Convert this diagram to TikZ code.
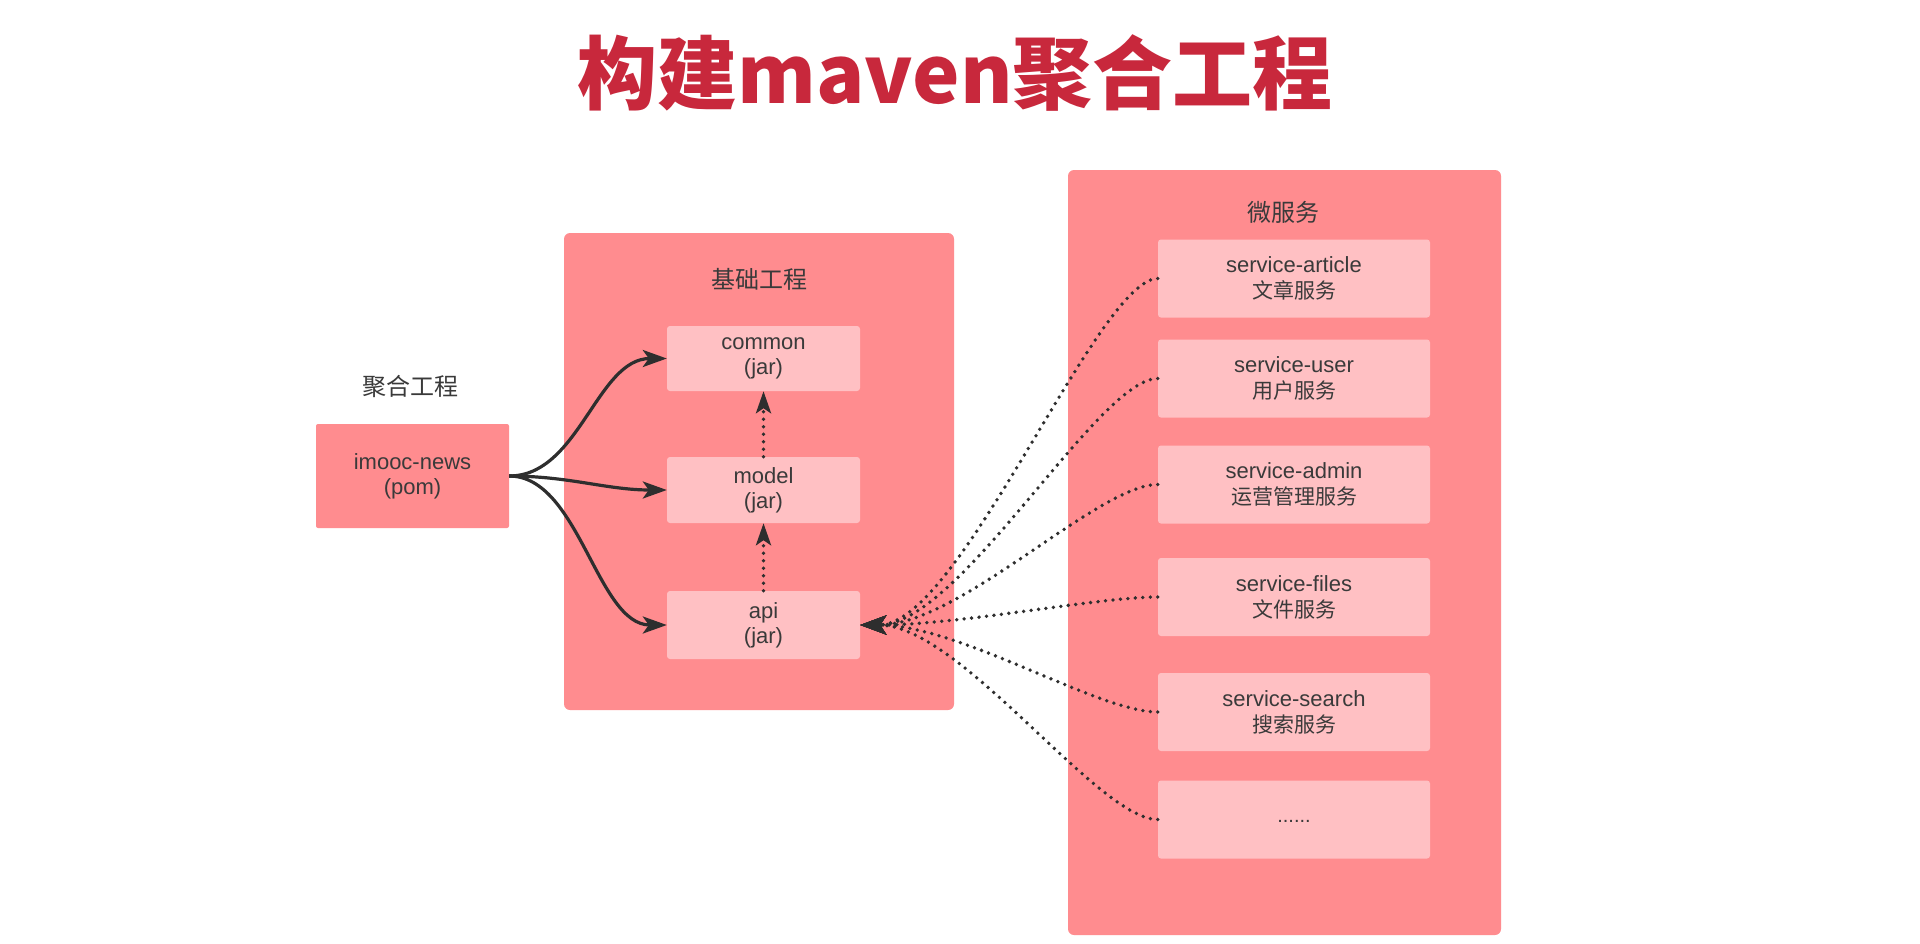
\documentclass[tikz,border=0pt]{standalone}
\usepackage{fontspec}
\setmainfont{Liberation Sans}
\newfontfamily\cjk{Noto Sans CJK SC}
\usetikzlibrary{arrows.meta}
\definecolor{outerpink}{HTML}{FF8C8F}
\definecolor{innerpink}{HTML}{FFC0C3}
\definecolor{txt}{HTML}{3A3A3A}
\definecolor{titlered}{HTML}{C8283C}
\definecolor{linec}{HTML}{2E2E2E}
\newcommand{\zh}[1]{{\cjk\fontsize{21}{26}\selectfont #1}}
\begin{document}
\begin{tikzpicture}[x=1pt,y=1pt,
  container/.style={fill=outerpink, draw=none, rounded corners=6pt, inner sep=0pt},
  inbox/.style={fill=innerpink, draw=none, rounded corners=3pt, minimum width=193pt, text=txt, align=center, font=\fontsize{22}{25}\selectfont, inner sep=0pt},
  svcbox/.style={fill=innerpink, draw=none, rounded corners=3pt, minimum width=272pt, minimum height=78pt, text=txt, align=center, font=\fontsize{22}{26}\selectfont, inner sep=0pt},
  grouplabel/.style={text=txt, font=\cjk\fontsize{24}{28}\selectfont, inner sep=0pt},
  solidarrow/.style={draw=linec, line width=3.2pt, -{Stealth[length=24pt,width=17pt,inset=6pt]}},
  vdots/.style={draw=linec, line width=3.8pt, line cap=round, dash pattern=on 0pt off 7.5pt, -{Stealth[length=22pt,width=15pt,inset=5pt]}},
  svcdots/.style={draw=linec, line width=3.8pt, line cap=round, dash pattern=on 0pt off 7.5pt, -{Stealth[length=26pt,width=19pt,inset=6pt]}},
]
\fill[white] (0,0) rectangle (1920,-943);
\useasboundingbox (0,0) rectangle (1920,-943);

% title
\node[text=titlered, font=\cjk\bfseries\fontsize{80}{90}\selectfont, inner sep=0pt] (title) at (955,-73) {构建maven聚合工程};

% aggregate project
\node[grouplabel] (aggLabel) at (410,-386) {聚合工程};
\node[fill=outerpink, rounded corners=2pt, minimum width=193pt, minimum height=104pt, inner sep=0pt, text=txt, align=center, font=\fontsize{22}{25}\selectfont] (imooc) at (412.5,-476) {imooc-news\\(pom)};

% base project container
\node[container, minimum width=390pt, minimum height=477pt] (base) at (759,-471.5) {};
\node[grouplabel] (baseLabel) at (759,-279) {基础工程};
\node[inbox, minimum height=65pt] (common) at (763.5,-358.5) {common\\(jar)};
\node[inbox, minimum height=66pt] (model) at (763.5,-490) {model\\(jar)};
\node[inbox, minimum height=68pt] (api) at (763.5,-625) {api\\(jar)};

% microservices container
\node[container, minimum width=433pt, minimum height=765pt] (micro) at (1284.5,-552.5) {};
\node[grouplabel] (microLabel) at (1283,-212) {微服务};
\node[svcbox] (article) at (1294,-278.5) {service-article\\\zh{文章服务}};
\node[svcbox] (user) at (1294,-378.5) {service-user\\\zh{用户服务}};
\node[svcbox] (admin) at (1294,-484.5) {service-admin\\\zh{运营管理服务}};
\node[svcbox] (files) at (1294,-597) {service-files\\\zh{文件服务}};
\node[svcbox] (search) at (1294,-712) {service-search\\\zh{搜索服务}};
\node[svcbox, font=\fontsize{20}{26}\selectfont] (more) at (1294,-819.5) {\raisebox{-6pt}{......}};

% aggregate arrows
\draw[solidarrow] (imooc.east) .. controls +(70,0) and +(-70,0) .. (common.west);
\draw[solidarrow] (imooc.east) .. controls +(60,0) and +(-60,0) .. (model.west);
\draw[solidarrow] (imooc.east) .. controls +(70,0) and +(-70,0) .. (api.west);

% dependencies inside base
\draw[vdots] (model.north) -- (common.south);
\draw[vdots] (api.north) -- (model.south);

% services depend on api
\foreach \s in {article,user,admin,files,search,more}
  \draw[svcdots] (\s.west) .. controls +(-60,0) and +(100,0) .. (api.east);
\end{tikzpicture}
\end{document}
